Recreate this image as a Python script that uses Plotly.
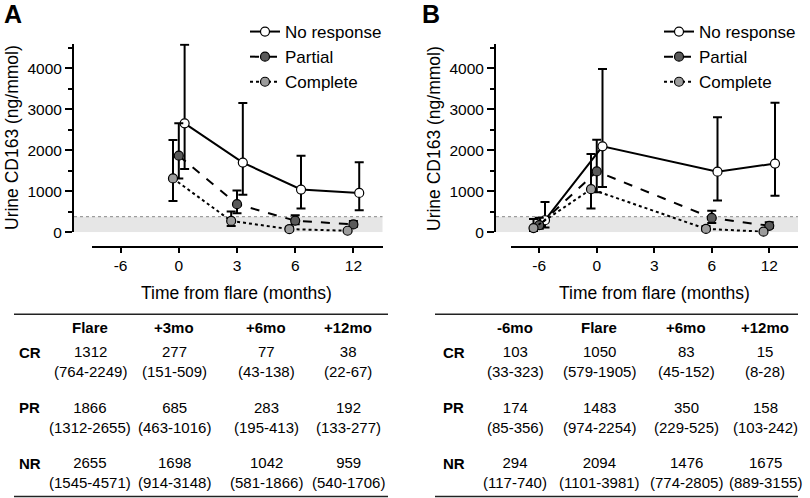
import plotly.graph_objects as go

FONT = "Liberation Sans, Arial, Helvetica, sans-serif"
W, H = 810, 498

# ---------------- data ----------------
x_ticks = ["-6", "0", "3", "6", "12"]
groups = ["CR", "PR", "NR"]
group_names = {"NR": "No response", "PR": "Partial", "CR": "Complete"}
normal_upper = 380

# Panel A (months from flare)
a_times = ["0", "3", "6", "12"]
a_cols = ["Flare", "+3mo", "+6mo", "+12mo"]
a_cr_med = [1312, 277, 77, 38]
a_cr_lo = [764, 151, 43, 22]
a_cr_hi = [2249, 509, 138, 67]
a_pr_med = [1866, 685, 283, 192]
a_pr_lo = [1312, 463, 195, 133]
a_pr_hi = [2655, 1016, 413, 277]
a_nr_med = [2655, 1698, 1042, 959]
a_nr_lo = [1545, 914, 581, 540]
a_nr_hi = [4571, 3148, 1866, 1706]

# Panel B
b_times = ["-6", "0", "6", "12"]
b_cols = ["-6mo", "Flare", "+6mo", "+12mo"]
b_cr_med = [103, 1050, 83, 15]
b_cr_lo = [33, 579, 45, 8]
b_cr_hi = [323, 1905, 152, 28]
b_pr_med = [174, 1483, 350, 158]
b_pr_lo = [85, 974, 229, 103]
b_pr_hi = [356, 2254, 525, 242]
b_nr_med = [294, 2094, 1476, 1675]
b_nr_lo = [117, 1101, 774, 889]
b_nr_hi = [740, 3981, 2805, 3155]

# ---------------- styles ----------------
offsets = {"CR": -0.1, "PR": 0.0, "NR": 0.1}
marker_fill = {"NR": "#ffffff", "PR": "#5a5a5a", "CR": "#9c9c9c"}
line_dash = {"NR": "solid", "PR": "dash", "CR": "dot"}
rank = {"NR": 1, "PR": 2, "CR": 3}


def px(x):
    return x / W


def py(y):
    return 1 - y / H


panels = [
    dict(key="A", times=a_times, cols=a_cols,
         data={"CR": (a_cr_med, a_cr_lo, a_cr_hi),
               "PR": (a_pr_med, a_pr_lo, a_pr_hi),
               "NR": (a_nr_med, a_nr_lo, a_nr_hi)},
         xdom=(91.5, 382.5), ypos=73, legend_x=245, table_x=(14, 388),
         col_x=[90, 174, 266, 348], row_lab_x=17, title_x=236, letter_x=2),
    dict(key="B", times=b_times, cols=b_cols,
         data={"CR": (b_cr_med, b_cr_lo, b_cr_hi),
               "PR": (b_pr_med, b_pr_lo, b_pr_hi),
               "NR": (b_nr_med, b_nr_lo, b_nr_hi)},
         xdom=(510.5, 798), ypos=495, legend_x=659, table_x=(435, 798),
         col_x=[515, 599, 686, 765], row_lab_x=441, title_x=654, letter_x=420),
]

fig = go.Figure()
shapes = []
annotations = []
y0_px, ytop_px, xaxis_px = 232.3, 43.5, 246.7

for i, p in enumerate(panels):
    sfx = "" if i == 0 else "2"
    xa, ya = "x" + sfx, "y" + sfx
    legend_id = "legend" if i == 0 else "legend2"
    for g in ["NR", "PR", "CR"]:
        med, lo, hi = p["data"][g]
        xs = [x_ticks.index(t) + offsets[g] for t in p["times"]]
        fig.add_trace(go.Scatter(
            x=xs, y=med, xaxis=xa, yaxis=ya, name=group_names[g],
            legend=legend_id, legendrank=rank[g],
            mode="lines+markers", cliponaxis=False,
            line=dict(color="black", width=2, dash=line_dash[g]),
            marker=dict(size=9, color=marker_fill[g],
                        line=dict(color="black", width=1.2)),
            error_y=dict(type="data", symmetric=False,
                         array=[h - m for h, m in zip(hi, med)],
                         arrayminus=[m - l for m, l in zip(med, lo)],
                         color="black", thickness=2, width=4.5),
        ))

    x0d, x1d = p["xdom"]
    axis_common = dict(showgrid=False, zeroline=False, showline=True,
                       linecolor="black", linewidth=2, ticks="outside",
                       tickwidth=2, tickcolor="black",
                       tickfont=dict(family=FONT, size=15.5, color="black"))
    fig.update_layout(**{
        "xaxis" + sfx: dict(domain=[px(x0d), px(x1d)], anchor="free",
                            position=py(xaxis_px), range=[-0.5, 4.5],
                            tickvals=list(range(len(x_ticks))),
                            ticktext=x_ticks, ticklen=5, **axis_common),
        "yaxis" + sfx: dict(domain=[py(y0_px), py(ytop_px)], anchor="free",
                            position=px(p["ypos"]), range=[0, 4600],
                            tickvals=[0, 1000, 2000, 3000, 4000], ticklen=7,
                            minor=dict(tickvals=[500, 1500, 2500, 3500, 4500],
                                       ticks="outside", ticklen=4,
                                       tickwidth=2, tickcolor="black"),
                            **axis_common),
        legend_id: dict(x=px(p["legend_x"]), xanchor="left", y=py(14),
                        yanchor="top", bgcolor="rgba(0,0,0,0)",
                        font=dict(family=FONT, size=17, color="black"),
                        tracegroupgap=0, itemwidth=30),
    })

    # normal range band and dotted upper limit
    shapes.append(dict(type="rect", xref="paper", yref=ya,
                       x0=px(p["ypos"] + 1), x1=px(x1d), y0=0, y1=normal_upper,
                       fillcolor="#e6e6e6", line=dict(width=0), layer="below"))
    shapes.append(dict(type="line", xref="paper", yref=ya,
                       x0=px(p["ypos"] + 1), x1=px(x1d), y0=normal_upper,
                       y1=normal_upper, layer="below",
                       line=dict(color="#888888", width=1, dash="dot")))

    # axis titles
    annotations.append(dict(text="Time from flare (months)", xref="paper",
                            yref="paper", x=px(p["title_x"]), y=py(293),
                            showarrow=False, xanchor="center", yanchor="middle",
                            font=dict(family=FONT, size=17.5, color="black")))
    annotations.append(dict(text="Urine CD163 (ng/mmol)", xref="paper",
                            yref="paper", x=px(p["ypos"] - 61), y=py(138),
                            textangle=-90, showarrow=False, xanchor="center",
                            yanchor="middle",
                            font=dict(family=FONT, size=17.5, color="black")))
    # panel letter
    annotations.append(dict(text="<b>%s</b>" % p["key"], xref="paper",
                            yref="paper", x=px(p["letter_x"]), y=py(14),
                            showarrow=False, xanchor="left", yanchor="middle",
                            font=dict(family=FONT, size=25, color="black")))

    # table
    tx0, tx1 = p["table_x"]
    for yl in (314.3, 496.5):
        shapes.append(dict(type="line", xref="paper", yref="paper",
                           x0=px(tx0), x1=px(tx1), y0=py(yl), y1=py(yl),
                           line=dict(color="#222222", width=1.5)))
    tfont = dict(family=FONT, size=15, color="black")
    for c, cx in zip(p["cols"], p["col_x"]):
        annotations.append(dict(text="<b>%s</b>" % c, xref="paper",
                                yref="paper", x=px(cx), y=py(327),
                                showarrow=False, xanchor="center",
                                yanchor="middle", font=tfont))
    row_mid = {"CR": 361.7, "PR": 417.2, "NR": 472.9}
    for g in groups:
        med, lo, hi = p["data"][g]
        ry = row_mid[g]
        annotations.append(dict(text="<b>%s</b>" % g, xref="paper",
                                yref="paper", x=px(p["row_lab_x"]),
                                y=py(ry - 9.5), showarrow=False,
                                xanchor="left", yanchor="middle", font=tfont))
        for k, cx in enumerate(p["col_x"]):
            annotations.append(dict(
                text="%d<br>(%d-%d)" % (med[k], lo[k], hi[k]),
                xref="paper", yref="paper", x=px(cx), y=py(ry),
                showarrow=False, xanchor="center", yanchor="middle",
                align="center", font=tfont))

fig.update_layout(width=W, height=H,
                  margin=dict(l=0, r=0, t=0, b=0, autoexpand=False),
                  plot_bgcolor="white", paper_bgcolor="white",
                  font=dict(family=FONT, color="black"),
                  shapes=shapes, annotations=annotations, showlegend=True)

fig.write_html("out.html", config={"displayModeBar": False},
               post_script="document.body.style.margin='0';"
                           "document.body.style.overflow='hidden';")
